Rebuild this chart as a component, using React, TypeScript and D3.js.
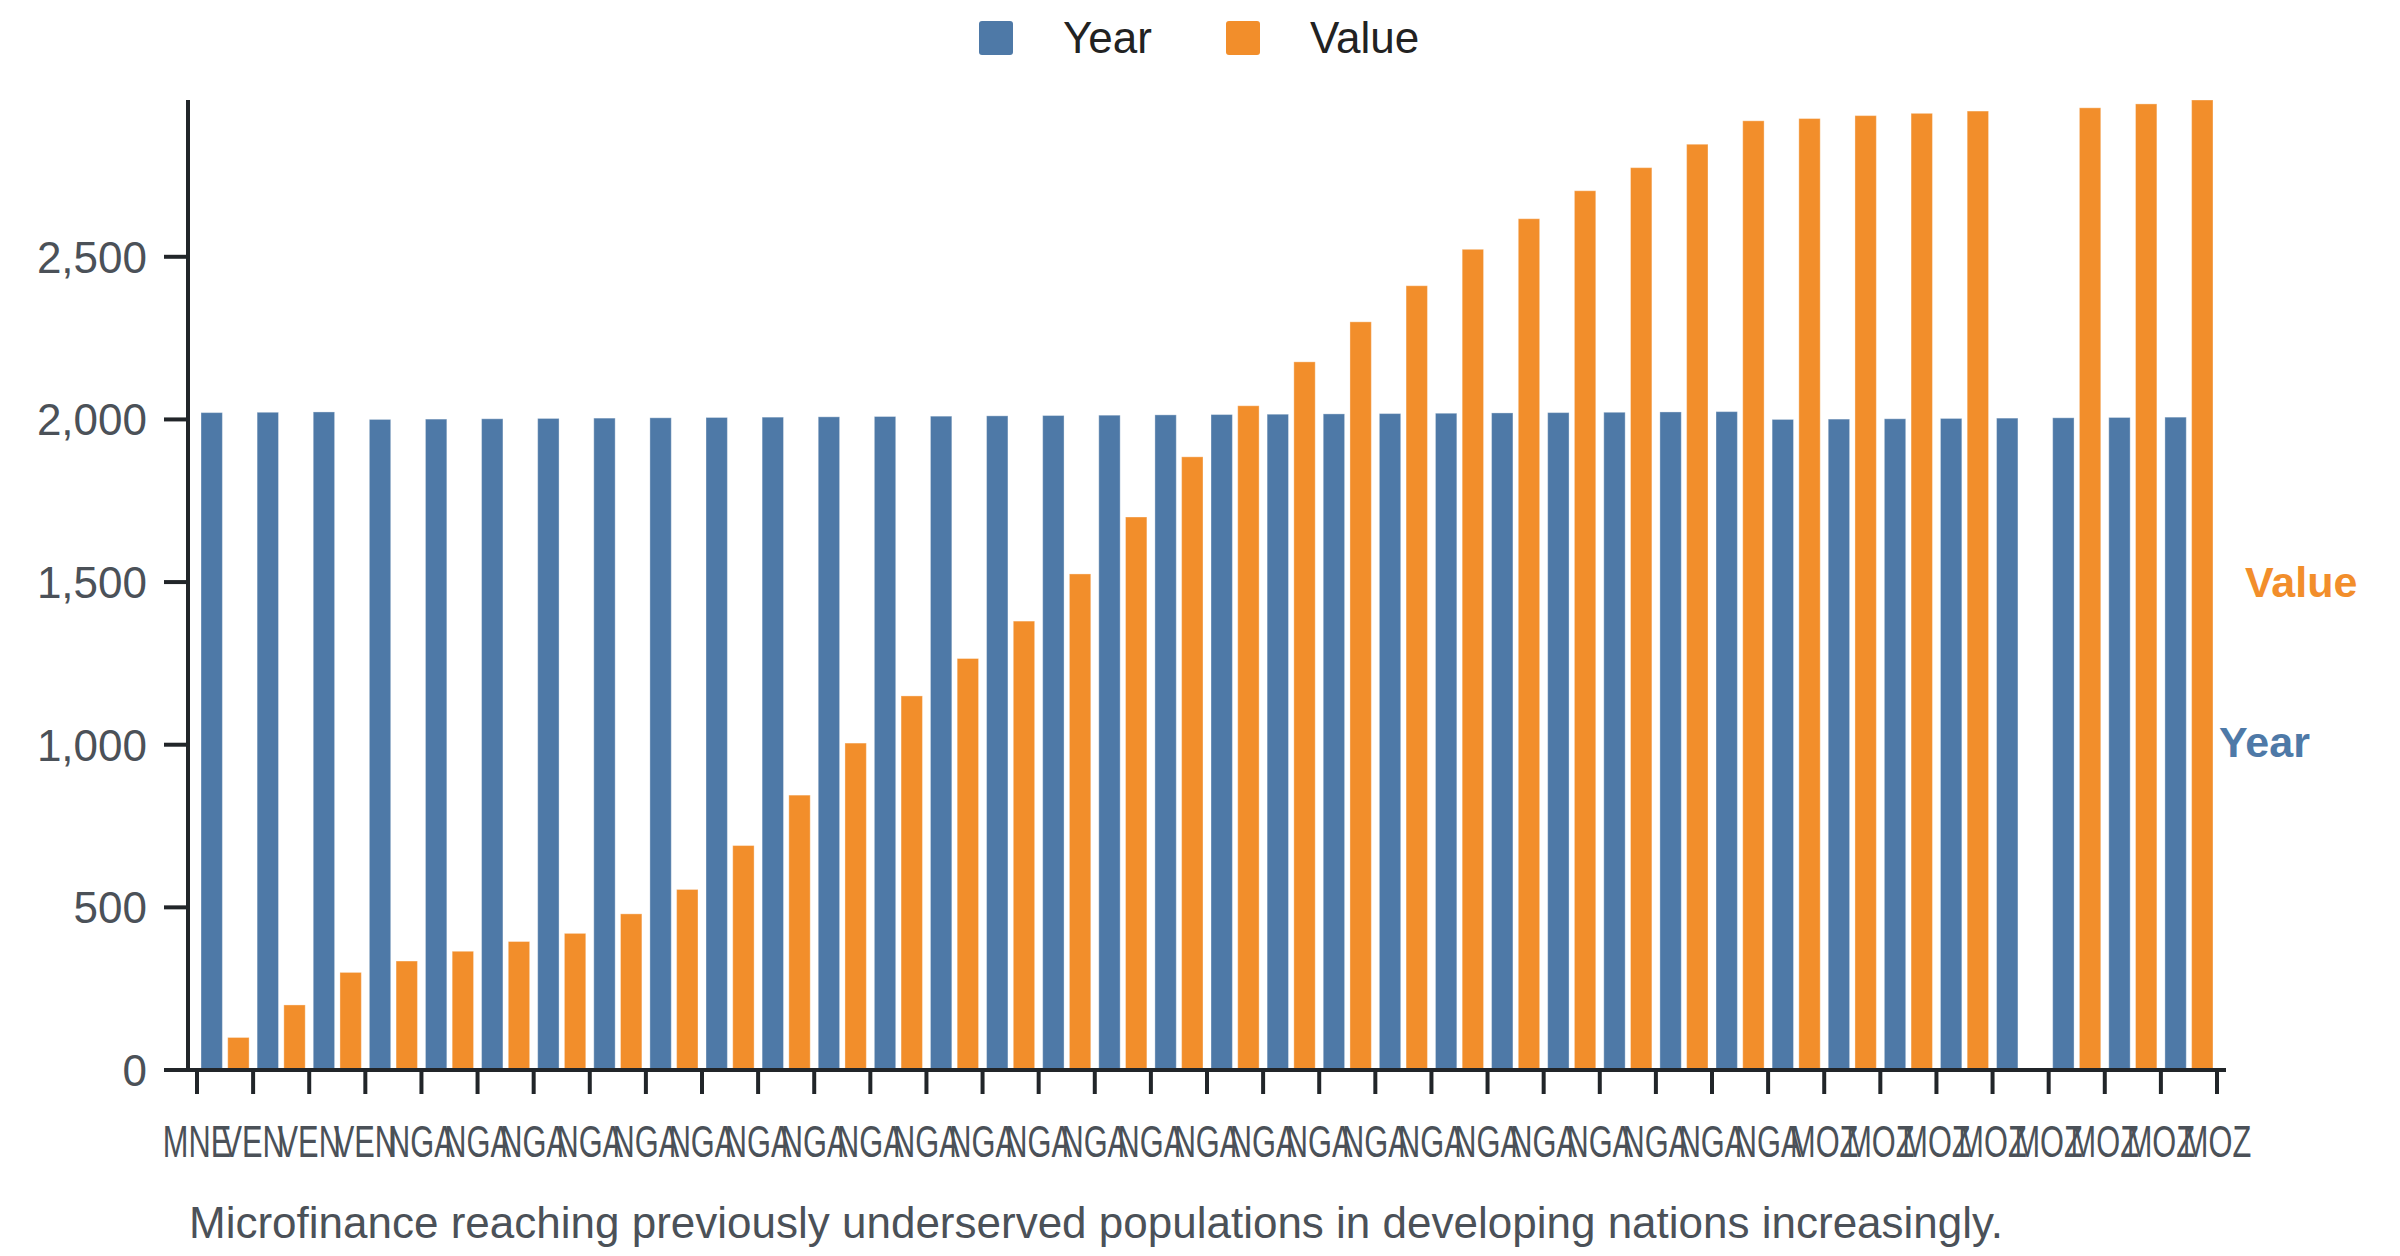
import { max, range, scaleBand, scaleLinear } from 'd3';

// data
const countries = [
  'VEN', 'VEN', 'VEN',
  'NGA', 'NGA', 'NGA', 'NGA', 'NGA', 'NGA', 'NGA', 'NGA', 'NGA', 'NGA', 'NGA', 'NGA', 'NGA',
  'NGA', 'NGA', 'NGA', 'NGA', 'NGA', 'NGA', 'NGA', 'NGA', 'NGA', 'NGA', 'NGA', 'NGA',
  'MOZ', 'MOZ', 'MOZ', 'MOZ', 'MOZ', 'MOZ', 'MOZ', 'MOZ',
];
const years = [
  2021, 2022, 2023,
  2000, 2001, 2002, 2003, 2004, 2005, 2006, 2007, 2008, 2009, 2010, 2011, 2012,
  2013, 2014, 2015, 2016, 2017, 2018, 2019, 2020, 2021, 2022, 2023, 2024,
  2000, 2001, 2002, 2003, 2004, 2005, 2006, 2007,
];
const values: (number | null)[] = [
  100, 200, 300,
  335, 365, 395, 420, 480, 555, 690, 845, 1005, 1150, 1265, 1380, 1525,
  1700, 1885, 2042, 2177, 2300, 2411, 2523, 2617, 2703, 2774, 2846, 2918,
  2925, 2934, 2941, 2948, null, 2958, 2970, 2982,
];
const tickLabels = ['MNE', ...countries];
const yTicks = [0, 500, 1000, 1500, 2000, 2500];
const seriesKeys = ['Year', 'Value'];

const width = 2400;
const height = 1256;
const plot = { left: 188, top: 100, bottom: 1070, xStart: 197, xEnd: 2217 };
const colors: Record<string, string> = { Year: '#4e79a7', Value: '#f28e2b' };
const font = '"Liberation Sans", Arial, Helvetica, sans-serif';
const axisColor = '#212529';
const labelColor = '#4b5158';

export default function App() {
  const x0 = scaleBand<number>()
    .domain(range(countries.length))
    .range([plot.xStart, plot.xEnd])
    .padding(0);
  const x1 = scaleBand<string>()
    .domain(seriesKeys)
    .range([0, x0.step()])
    .paddingInner(0.2)
    .paddingOuter(0.15);
  const yMax = max([...years, ...values.map(v => v ?? 0)]) ?? 1;
  const y = scaleLinear().domain([0, yMax]).range([plot.bottom, plot.top]);

  const tickXs = [...range(countries.length).map(i => x0(i) ?? 0), plot.xEnd];

  return (
    <svg
      width={width}
      height={height}
      viewBox={`0 0 ${width} ${height}`}
      style={{ position: 'absolute', left: 0, top: 0, background: '#fff', fontFamily: font }}
    >
      {/* legend */}
      <g>
        <rect x={979} y={21} width={34} height={34} rx={3} fill={colors.Year} />
        <text x={1063} y={53} fontSize={44} fill="#222">Year</text>
        <rect x={1226} y={21} width={34} height={34} rx={3} fill={colors.Value} />
        <text x={1310} y={53} fontSize={44} fill="#222">Value</text>
      </g>

      {/* bars */}
      {countries.map((c, i) => {
        const gx = x0(i) ?? 0;
        const rows = [
          { key: 'Year', value: years[i] },
          { key: 'Value', value: values[i] },
        ];
        return (
          <g key={`${c}-${i}`} transform={`translate(${gx},0)`}>
            {rows.map(r =>
              r.value == null ? null : (
                <rect
                  key={r.key}
                  x={x1(r.key)}
                  y={y(r.value)}
                  width={x1.bandwidth()}
                  height={plot.bottom - y(r.value)}
                  fill={colors[r.key]}
                  stroke="#ffffff"
                  strokeOpacity={0.35}
                  strokeWidth={1}
                />
              ),
            )}
          </g>
        );
      })}

      {/* y axis */}
      <g>
        <line x1={plot.left} x2={plot.left} y1={plot.top} y2={plot.bottom} stroke={axisColor} strokeWidth={4} />
        {yTicks.map(t => (
          <g key={t}>
            <line x1={plot.left - 24} x2={plot.left} y1={y(t)} y2={y(t)} stroke={axisColor} strokeWidth={4} />
            <text x={plot.left - 41} y={y(t) + 16} textAnchor="end" fontSize={44} fill={labelColor}>
              {t.toLocaleString('en-US')}
            </text>
          </g>
        ))}
      </g>

      {/* x axis */}
      <g>
        <line x1={plot.left - 24} x2={plot.xEnd + 9} y1={plot.bottom} y2={plot.bottom} stroke={axisColor} strokeWidth={4} />
        {tickXs.map((tx, i) => (
          <g key={i}>
            <line x1={tx} x2={tx} y1={plot.bottom} y2={plot.bottom + 24} stroke={axisColor} strokeWidth={4} />
            <text
              transform={`translate(${tx},${plot.bottom + 87}) scale(0.7,1)`}
              textAnchor="middle"
              fontSize={44}
              fill={labelColor}
            >
              {tickLabels[i]}
            </text>
          </g>
        ))}
      </g>

      {/* series labels on the right */}
      <text x={2245} y={597} fontSize={43} fontWeight="bold" fill={colors.Value}>Value</text>
      <text x={2219} y={757} fontSize={43} fontWeight="bold" fill={colors.Year}>Year</text>

      {/* caption */}
      <text x={189} y={1238} fontSize={44} fill={labelColor}>
        Microfinance reaching previously underserved populations in developing nations increasingly.
      </text>
    </svg>
  );
}
